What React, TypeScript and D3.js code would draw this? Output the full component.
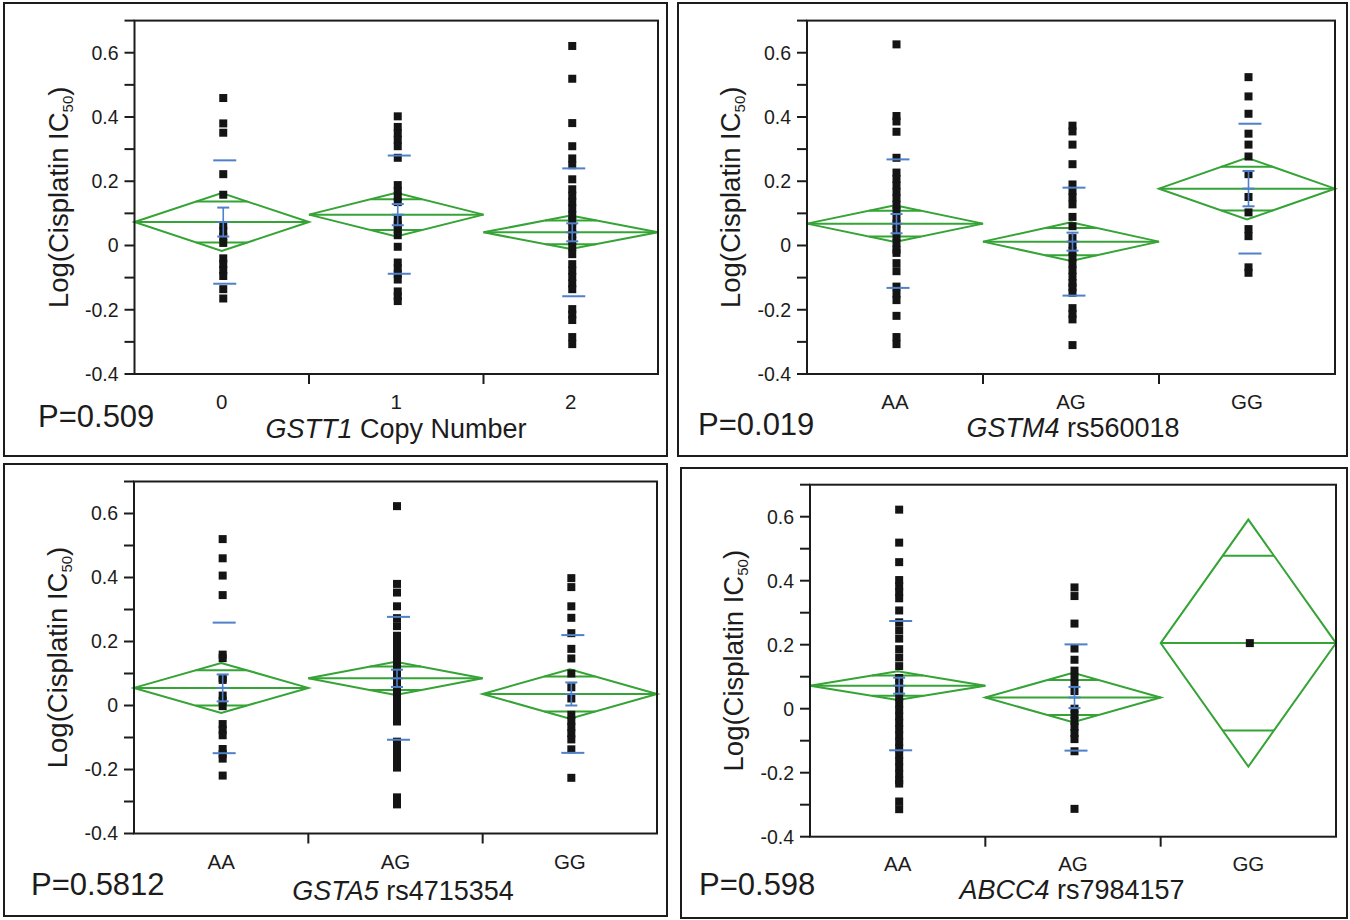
import React from "react";
import * as d3 from "d3";

// ---------------- DATA ----------------
// Panel A: GSTT1 copy number
const gstt1Categories = ["0", "1", "2"];
const gstt1Copy0 = [0.459, 0.38, 0.351, 0.222, 0.158, 0.062, 0.045, 0.027, 0.008, -0.04, -0.058, -0.077, -0.095, -0.136, -0.165];
const gstt1Copy1 = [0.402, 0.369, 0.349, 0.329, 0.309, 0.273, 0.188, 0.17, 0.152, 0.135, 0.08, 0.064, 0.048, 0.032, -0.004, -0.053, -0.071, -0.089, -0.106, -0.143, -0.158, -0.173];
const gstt1Copy2 = [0.621, 0.519, 0.381, 0.309, 0.271, 0.25, 0.206, 0.175, 0.155, 0.135, 0.115, 0.095, 0.075, 0.055, 0.035, 0.015, -0.005, -0.027, -0.058, -0.078, -0.098, -0.118, -0.136, -0.198, -0.215, -0.232, -0.285, -0.307];
const gstt1Means = [0.073, 0.096, 0.041];
const gstt1CiHalf = [0.09, 0.068, 0.052];
const gstt1Se = [0.045, 0.033, 0.028];
const gstt1Sd = [0.192, 0.184, 0.199];

// Panel B: GSTM4 rs560018
const gstm4Categories = ["AA", "AG", "GG"];
const gstm4AA = [0.626, 0.403, 0.386, 0.354, 0.273, 0.227, 0.207, 0.187, 0.167, 0.147, 0.127, 0.107, 0.087, 0.067, 0.047, 0.027, 0.007, -0.013, -0.023, -0.055, -0.08, -0.128, -0.15, -0.17, -0.219, -0.285, -0.307];
const gstm4AG = [0.373, 0.355, 0.314, 0.253, 0.19, 0.17, 0.15, 0.128, 0.089, 0.06, 0.023, 0.003, -0.017, -0.037, -0.057, -0.077, -0.097, -0.117, -0.13, -0.147, -0.195, -0.213, -0.23, -0.31];
const gstm4GG = [0.524, 0.464, 0.41, 0.348, 0.314, 0.277, 0.222, 0.151, 0.103, 0.051, 0.029, -0.068, -0.085];
const gstm4Means = [0.068, 0.012, 0.177];
const gstm4CiHalf = [0.057, 0.06, 0.096];
const gstm4Se = [0.03, 0.028, 0.055];
const gstm4Sd = [0.2, 0.168, 0.202];

// Panel C: GSTA5 rs4715354
const gsta5Categories = ["AA", "AG", "GG"];
const gsta5AA = [0.52, 0.46, 0.406, 0.345, 0.159, 0.148, 0.086, 0.08, 0.031, 0.015, -0.002, -0.058, -0.076, -0.093, -0.136, -0.151, -0.166, -0.219];
const gsta5AG = [0.623, 0.38, 0.353, 0.31, 0.273, 0.248, 0.218, 0.198, 0.178, 0.158, 0.138, 0.118, 0.098, 0.078, 0.058, 0.038, 0.018, -0.002, -0.022, -0.042, -0.05, -0.113, -0.133, -0.153, -0.173, -0.194, -0.287, -0.309];
const gsta5GG = [0.398, 0.37, 0.31, 0.274, 0.226, 0.177, 0.147, 0.1, 0.057, 0.022, -0.029, -0.048, -0.067, -0.087, -0.106, -0.137, -0.226];
const gsta5Means = [0.055, 0.085, 0.036];
const gsta5CiHalf = [0.078, 0.052, 0.077];
const gsta5Se = [0.042, 0.027, 0.036];
const gsta5Sd = [0.204, 0.192, 0.184];

// Panel D: ABCC4 rs7984157
const abcc4Categories = ["AA", "AG", "GG"];
const abcc4AA = [0.622, 0.519, 0.458, 0.402, 0.383, 0.364, 0.345, 0.307, 0.27, 0.245, 0.219, 0.186, 0.16, 0.133, 0.096, 0.076, 0.056, 0.036, 0.016, -0.004, -0.024, -0.044, -0.064, -0.084, -0.104, -0.124, -0.144, -0.164, -0.184, -0.204, -0.224, -0.234, -0.29, -0.314];
const abcc4AG = [0.379, 0.352, 0.266, 0.188, 0.153, 0.119, 0.098, 0.077, 0.055, 0.0, -0.019, -0.038, -0.057, -0.076, -0.095, -0.133, -0.313];
const abcc4GG = [0.205];
const abcc4Means = [0.072, 0.035, 0.205];
const abcc4CiHalf = [0.045, 0.077, 0.386];
const abcc4Se = [0.025, 0.033, null];
const abcc4Sd = [0.202, 0.166, null];

const yDomain = [-0.4, 0.7];
const yTickValues = [-0.4, -0.3, -0.2, -0.1, 0, 0.1, 0.2, 0.3, 0.4, 0.5, 0.6, 0.7];
const yTickLabels = ["-0.4", "", "-0.2", "", "0", "", "0.2", "", "0.4", "", "0.6", ""];

// ---------------- STYLE ----------------
const FONT = "'Liberation Sans', Arial, Helvetica, sans-serif";
const GREEN = "#35a335";
const BLUE = "#4f80c8";
const INK = "#1c1c1c";

type Layout = {
  box: [number, number, number, number];
  left: number; right: number; top: number; bottom: number;
  pX: number; pY: number; titleX: number; titleY: number; catDy: number;
};

const layoutA: Layout = { box: [4, 3, 663, 453], left: 134.5, right: 658, top: 20.6, bottom: 374, pX: 38, pY: 427, titleX: 396, titleY: 438, catDy: 35 };
const layoutB: Layout = { box: [678, 3, 669, 453], left: 807, right: 1335, top: 20.6, bottom: 374, pX: 698, pY: 435, titleX: 1073, titleY: 437, catDy: 35 };
const layoutC: Layout = { box: [4, 464, 663, 452], left: 134, right: 657, top: 481.5, bottom: 833.5, pX: 31, pY: 895, titleX: 403, titleY: 900, catDy: 35 };
const layoutD: Layout = { box: [681, 468, 666, 450], left: 810, right: 1336, top: 484.7, bottom: 836.7, pX: 699, pY: 895, titleX: 1072, titleY: 899, catDy: 34 };

type PanelProps = {
  layout: Layout;
  categories: string[];
  groups: number[][];
  means: number[];
  ciHalf: number[];
  se: (number | null)[];
  sd: (number | null)[];
  pText: string;
  gene: string;
  rest: string;
};

function Panel({ layout, categories, groups, means, ciHalf, se, sd, pText, gene, rest }: PanelProps) {
  const x = d3.scaleBand<string>().domain(categories).range([layout.left, layout.right]).padding(0);
  const y = d3.scaleLinear().domain(yDomain).range([layout.bottom, layout.top]);
  const bw = x.bandwidth();
  const half = bw / 2;
  const k = 1 / Math.SQRT2;
  const ptOff = 1.5;
  const [bx, by, bwid, bh] = layout.box;

  return (
    <g>
      <rect x={bx} y={by} width={bwid} height={bh} fill="none" stroke={INK} strokeWidth={2} />

      {/* diamonds */}
      {categories.map((c, i) => {
        const cx = (x(c) as number) + half;
        const m = means[i];
        const h = ciHalf[i];
        const l = x(c) as number;
        const r = l + bw;
        const path = d3.path();
        path.moveTo(l, y(m));
        path.lineTo(cx, y(m + h));
        path.lineTo(r, y(m));
        path.lineTo(cx, y(m - h));
        path.closePath();
        const ow = half * (1 - k);
        return (
          <g key={"d" + c} stroke={GREEN} strokeWidth={2} fill="none">
            <path d={path.toString()} strokeLinejoin="miter" />
            <line x1={l} x2={r} y1={y(m)} y2={y(m)} />
            <line x1={cx - ow} x2={cx + ow} y1={y(m + h * k)} y2={y(m + h * k)} />
            <line x1={cx - ow} x2={cx + ow} y1={y(m - h * k)} y2={y(m - h * k)} />
          </g>
        );
      })}

      {/* points */}
      {categories.map((c, i) => {
        const cx = (x(c) as number) + half + ptOff;
        return (
          <g key={"p" + c} fill="#141414">
            {groups[i].map((v, j) => (
              <rect key={j} x={cx - 4} y={y(v) - 4} width={8} height={8} />
            ))}
          </g>
        );
      })}

      {/* blue: mean error bars and std dev lines */}
      {categories.map((c, i) => {
        const s = se[i];
        const d = sd[i];
        if (s == null || d == null) return null;
        const cx = (x(c) as number) + half + ptOff;
        const m = means[i];
        return (
          <g key={"b" + c} stroke={BLUE} fill="none">
            <line x1={cx} x2={cx} y1={y(m + s)} y2={y(m - s)} strokeWidth={1.6} />
            <line x1={cx - 6} x2={cx + 6} y1={y(m + s)} y2={y(m + s)} strokeWidth={2} />
            <line x1={cx - 6} x2={cx + 6} y1={y(m - s)} y2={y(m - s)} strokeWidth={2} />
            <line x1={cx - 6} x2={cx + 6} y1={y(m)} y2={y(m)} strokeWidth={2} />
            <line x1={cx - 10} x2={cx + 13} y1={y(m + d)} y2={y(m + d)} strokeWidth={2} />
            <line x1={cx - 10} x2={cx + 13} y1={y(m - d)} y2={y(m - d)} strokeWidth={2} />
          </g>
        );
      })}

      {/* frame */}
      <rect x={layout.left} y={layout.top} width={layout.right - layout.left} height={layout.bottom - layout.top}
        fill="none" stroke={INK} strokeWidth={2} />

      {/* y ticks */}
      {yTickValues.map((v, i) => (
        <g key={"yt" + i}>
          <line x1={layout.left - 10} x2={layout.left} y1={y(v)} y2={y(v)} stroke={INK} strokeWidth={2} />
          {yTickLabels[i] !== "" && (
            <text x={layout.left - 16} y={y(v)} dy="0.35em" textAnchor="end" fontSize={19.5} fontFamily={FONT} fill={INK}>
              {yTickLabels[i]}
            </text>
          )}
        </g>
      ))}

      {/* x boundary ticks */}
      {categories.slice(1).map((c) => (
        <line key={"xt" + c} x1={x(c) as number} x2={x(c) as number} y1={layout.bottom} y2={layout.bottom + 10} stroke={INK} strokeWidth={2} />
      ))}

      {/* category labels */}
      {categories.map((c) => (
        <text key={"cl" + c} x={(x(c) as number) + half} y={layout.bottom + layout.catDy} textAnchor="middle" fontSize={20.5} fontFamily={FONT} fill={INK}>
          {c}
        </text>
      ))}

      {/* y title */}
      <text
        transform={`translate(${layout.left - 67},${(layout.top + layout.bottom) / 2}) rotate(-90)`}
        textAnchor="middle" fontSize={27.5} fontFamily={FONT} fill={INK}>
        {"Log(Cisplatin IC"}
        <tspan fontSize={15} dy={5}>50</tspan>
        <tspan dy={-5}>)</tspan>
      </text>

      {/* x title */}
      <text x={layout.titleX} y={layout.titleY} textAnchor="middle" fontSize={27} fontFamily={FONT} fill={INK}>
        <tspan fontStyle="italic">{gene}</tspan>
        {" " + rest}
      </text>

      {/* p-value */}
      <text x={layout.pX} y={layout.pY} fontSize={31} fontFamily={FONT} fill={INK}>{pText}</text>
    </g>
  );
}

export default function App() {
  return (
    <svg width={1350} height={920} style={{ position: "absolute", left: 0, top: 0, background: "#fff" }}>
      <rect x={0} y={0} width={1350} height={920} fill="#fff" />
      <Panel layout={layoutA} categories={gstt1Categories} groups={[gstt1Copy0, gstt1Copy1, gstt1Copy2]}
        means={gstt1Means} ciHalf={gstt1CiHalf} se={gstt1Se} sd={gstt1Sd} pText="P=0.509" gene="GSTT1" rest="Copy Number" />
      <Panel layout={layoutB} categories={gstm4Categories} groups={[gstm4AA, gstm4AG, gstm4GG]}
        means={gstm4Means} ciHalf={gstm4CiHalf} se={gstm4Se} sd={gstm4Sd} pText="P=0.019" gene="GSTM4" rest="rs560018" />
      <Panel layout={layoutC} categories={gsta5Categories} groups={[gsta5AA, gsta5AG, gsta5GG]}
        means={gsta5Means} ciHalf={gsta5CiHalf} se={gsta5Se} sd={gsta5Sd} pText="P=0.5812" gene="GSTA5" rest="rs4715354" />
      <Panel layout={layoutD} categories={abcc4Categories} groups={[abcc4AA, abcc4AG, abcc4GG]}
        means={abcc4Means} ciHalf={abcc4CiHalf} se={abcc4Se} sd={abcc4Sd} pText="P=0.598" gene="ABCC4" rest="rs7984157" />
    </svg>
  );
}
